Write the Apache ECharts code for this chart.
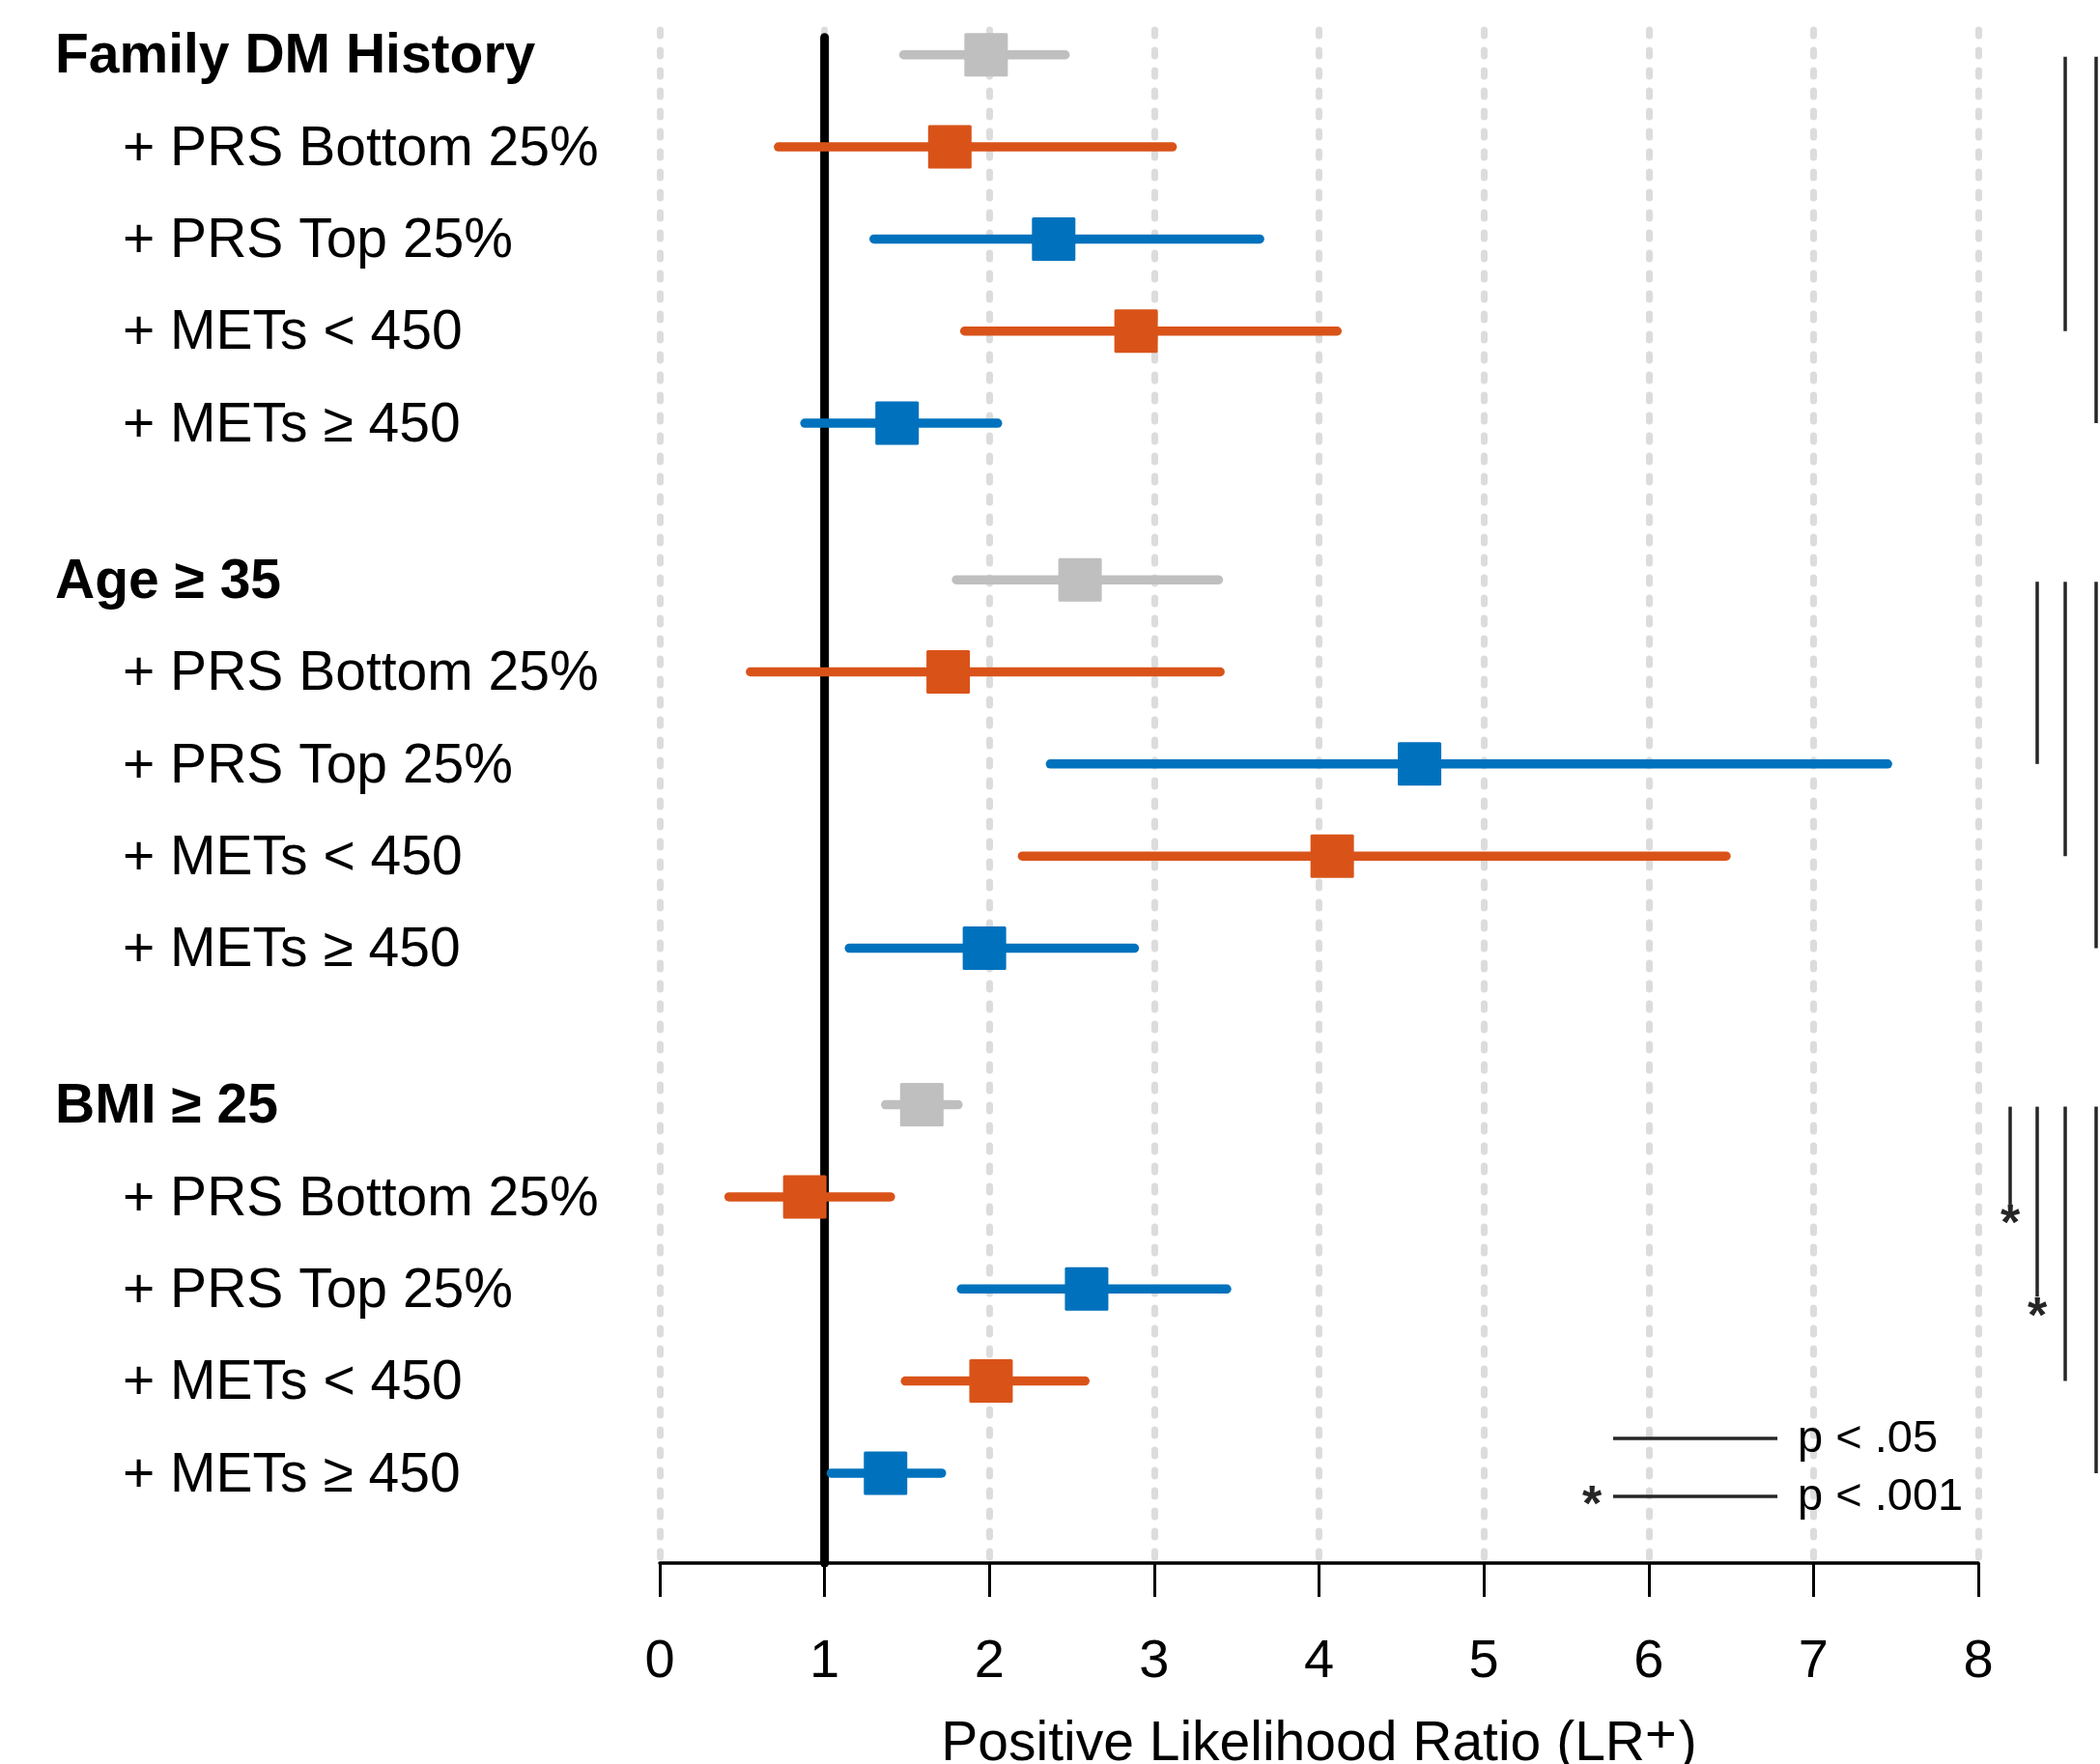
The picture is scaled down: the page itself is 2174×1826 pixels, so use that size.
<!DOCTYPE html>
<html>
<head>
<meta charset="utf-8">
<script src="https://cdn.jsdelivr.net/npm/echarts@6/dist/echarts.min.js"></script>
<style>
  html, body { margin: 0; padding: 0; background: #ffffff; }
  #chart { width: 2174px; height: 1826px; }
</style>
</head>
<body>
<div id="chart"></div>
<script>
// ---------------- DATA ----------------
const groupNames = ['Family DM History', 'Age \u2265 35', 'BMI \u2265 25'];
const subRowNames = ['+ PRS Bottom 25%', '+ PRS Top 25%', '+ METs < 450', '+ METs \u2265 450'];

// Each array: [group baseline, PRS Bottom, PRS Top, METs<450, METs>=450]
const familyMid = [1.98, 1.76, 2.39, 2.89, 1.44];
const familyLow = [1.48, 0.72, 1.30, 1.85, 0.88];
const familyHigh = [2.46, 3.11, 3.64, 4.11, 2.05];

const ageMid = [2.55, 1.75, 4.61, 4.08, 1.97];
const ageLow = [1.80, 0.55, 2.37, 2.20, 1.15];
const ageHigh = [3.39, 3.40, 7.45, 6.47, 2.88];

const bmiMid = [1.59, 0.88, 2.59, 2.01, 1.37];
const bmiLow = [1.37, 0.42, 1.83, 1.49, 1.04];
const bmiHigh = [1.81, 1.40, 3.44, 2.58, 1.71];

// significance brackets: [group index, compared row index (1..4), p<.001 flag]
const comparisons = [
  [0, 3, 0], [0, 4, 0],
  [1, 2, 0], [1, 3, 0], [1, 4, 0],
  [2, 1, 1], [2, 2, 1], [2, 3, 0], [2, 4, 0]
];

const xTicks = [0, 1, 2, 3, 4, 5, 6, 7, 8];
const referenceValue = 1;
const legendLabels = ['p < .05', 'p < .001'];

// ---------------- LAYOUT / STYLE ----------------
const GROUP_STEP = 5.7;
const rowColors = ['#BFBFBF', '#D95319', '#0072BD', '#D95319', '#0072BD'];
const FONT = "'Liberation Sans', Arial, Helvetica, sans-serif";
const bracketOffsets = [0, 33, 61, 90, 122];
const Y_MIN = -0.27, Y_MAX = 16.376;

const mids = [familyMid, ageMid, bmiMid];
const lows = [familyLow, ageLow, bmiLow];
const highs = [familyHigh, ageHigh, bmiHigh];

const forestData = [];
const labelData = [];
const labelTexts = [];
for (let g = 0; g < 3; g++) {
  for (let j = 0; j < 5; j++) {
    const y = g * GROUP_STEP + j;
    forestData.push([mids[g][j], lows[g][j], highs[g][j], y, j]);
    labelData.push([0, y, j === 0 ? 1 : 0]);
    labelTexts.push(j === 0 ? groupNames[g] : subRowNames[j - 1]);
  }
}
const bracketData = comparisons.map(c => [c[0] * GROUP_STEP, c[0] * GROUP_STEP + c[1], c[1], c[2]]);

const chart = echarts.init(document.getElementById('chart'), null, { renderer: 'canvas' });

const option = {
  backgroundColor: '#ffffff',
  animation: false,
  grid: { left: 683, right: 126, top: 31, bottom: 208, containLabel: false, outerBoundsMode: 'none' },
  xAxis: {
    type: 'value',
    position: 'bottom',
    min: xTicks[0],
    max: xTicks[xTicks.length - 1],
    interval: 1,
    axisLine: { show: true, onZero: false, lineStyle: { color: '#000', width: 3.5 } },
    axisTick: { show: true, length: 35, lineStyle: { color: '#000', width: 3 } },
    axisLabel: { show: true, fontSize: 56, fontFamily: FONT, color: '#000', margin: 75 },
    splitLine: { show: true, lineStyle: { color: '#DCDCDC', width: 7, type: [6, 15], cap: 'round' } },
    name: '{n|Positive Likelihood Ratio (LR}{s|+}{n|)}',
    nameLocation: 'middle',
    nameGap: 153,
    nameMoveOverlap: false,
    nameTextStyle: {
      color: '#000',
      fontFamily: FONT,
      rich: {
        n: { fontSize: 57, fontFamily: FONT, color: '#000', lineHeight: 70 },
        s: { fontSize: 56, fontFamily: FONT, color: '#000', lineHeight: 1, verticalAlign: 'top', padding: [0, 2, 0, 0] }
      }
    }
  },
  yAxis: {
    type: 'value',
    inverse: true,
    min: Y_MIN,
    max: Y_MAX,
    show: false
  },
  series: [
    {
      type: 'line',
      name: 'reference',
      data: [[referenceValue, -0.19], [referenceValue, Y_MAX]],
      symbol: 'none',
      lineStyle: { color: '#000', width: 9, cap: 'round' },
      z: 1,
      silent: true
    },
    {
      type: 'custom',
      name: 'forest',
      clip: false,
      z: 3,
      data: forestData,
      encode: { x: [0, 1, 2], y: 3 },
      renderItem: function (params, api) {
        const mid = api.value(0), lo = api.value(1), hi = api.value(2), y = api.value(3);
        const color = rowColors[api.value(4)];
        const pLo = api.coord([lo, y]);
        const pHi = api.coord([hi, y]);
        const pMid = api.coord([mid, y]);
        const s = 45;
        return {
          type: 'group',
          children: [
            { type: 'line', shape: { x1: pLo[0], y1: pLo[1], x2: pHi[0], y2: pHi[1] },
              style: { stroke: color, lineWidth: 9.5, lineCap: 'round' } },
            { type: 'rect', shape: { x: pMid[0] - s / 2, y: pMid[1] - s / 2, width: s, height: s, r: 1.5 },
              style: { fill: color } }
          ]
        };
      }
    },
    {
      type: 'custom',
      name: 'labels',
      clip: false,
      z: 3,
      data: labelData,
      encode: { x: 0, y: 1 },
      renderItem: function (params, api) {
        const y = api.value(1);
        const header = api.value(2) === 1;
        const p = api.coord([0, y]);
        return {
          type: 'text',
          style: {
            text: labelTexts[params.dataIndex],
            x: header ? 57 : 127,
            y: p[1] + 3,
            fill: '#000',
            font: (header ? 'bold ' : '') + '57px ' + FONT,
            textAlign: 'left', align: 'left',
            textVerticalAlign: 'middle', verticalAlign: 'middle'
          }
        };
      }
    },
    {
      type: 'custom',
      name: 'brackets',
      clip: false,
      z: 3,
      data: bracketData,
      encode: { y: [0, 1] },
      renderItem: function (params, api) {
        const yTop = api.coord([0, api.value(0)])[1];
        const yRow = api.coord([0, api.value(1)])[1];
        const x = api.coord([xTicks[xTicks.length - 1], 0])[0] + bracketOffsets[api.value(2)];
        const sig = api.value(3) === 1;
        const children = [
          { type: 'line', shape: { x1: x, y1: yTop + 2, x2: x, y2: sig ? yRow + 8 : yRow },
            style: { stroke: '#262626', lineWidth: 3.5 } }
        ];
        if (sig) {
          children.push({ type: 'text', style: {
            text: '*', x: x, y: yRow + 19 + 11, fill: '#262626',
            font: 'bold 52px ' + FONT,
            textAlign: 'center', align: 'center', textVerticalAlign: 'middle', verticalAlign: 'middle'
          } });
        }
        return { type: 'group', children: children };
      }
    }
  ],
  graphic: [
    { type: 'line', z: 100, shape: { x1: 1670, y1: 1489, x2: 1840, y2: 1489 }, style: { stroke: '#262626', lineWidth: 3.5 } },
    { type: 'line', z: 100, shape: { x1: 1670, y1: 1549, x2: 1840, y2: 1549 }, style: { stroke: '#262626', lineWidth: 3.5 } },
    { type: 'text', z: 100, x: 1861, y: 1490, style: { text: legendLabels[0], fill: '#000', font: '47px ' + FONT, textAlign: 'left', align: 'left', textVerticalAlign: 'middle', verticalAlign: 'middle' } },
    { type: 'text', z: 100, x: 1861, y: 1550, style: { text: legendLabels[1], fill: '#000', font: '47px ' + FONT, textAlign: 'left', align: 'left', textVerticalAlign: 'middle', verticalAlign: 'middle' } },
    { type: 'text', z: 100, x: 1648, y: 1560, style: { text: '*', fill: '#262626', font: 'bold 52px ' + FONT, textAlign: 'center', align: 'center', textVerticalAlign: 'middle', verticalAlign: 'middle' } }
  ]
};
chart.setOption(option);
</script>
</body>
</html>
